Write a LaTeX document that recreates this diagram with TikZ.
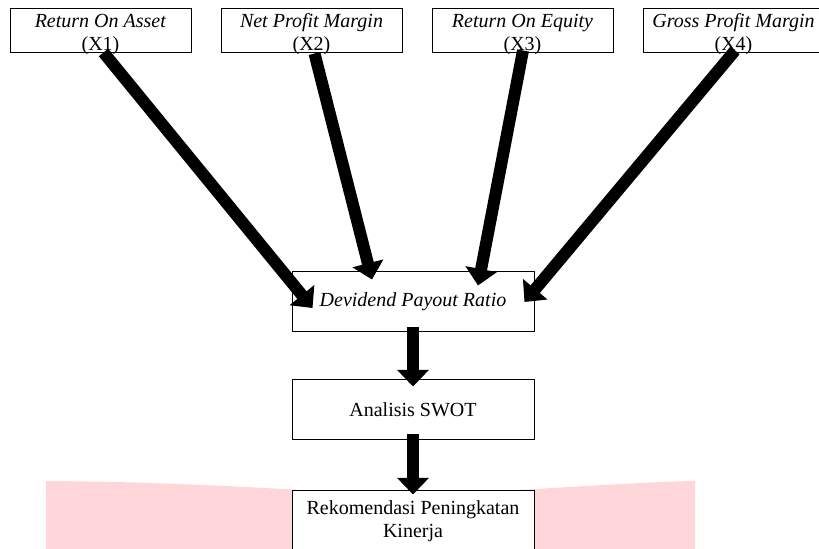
\documentclass[tikz,border=0pt]{standalone}
\usepackage{fontspec}
\setmainfont{Liberation Serif}
\usetikzlibrary{arrows.meta}
\definecolor{watermark_pink}{HTML}{FFD7DA}

\begin{document}
\begin{tikzpicture}[x=0.6pt, y=-0.6pt]
    \tikzstyle{factor_style}=[rectangle, draw, line width=0.6pt, fill=white, align=center, inner sep=0pt, minimum width=108.6pt, text height=25pt, text depth=1.4pt, font=\fontsize{12}{13.8}\selectfont]
    \tikzstyle{stage_style}=[rectangle, draw, line width=0.6pt, fill=white, align=center, inner sep=0pt, minimum width=145.2pt, minimum height=36pt, font=\fontsize{12}{14}\selectfont]
    \tikzstyle{big_arrow}=[line width=7.2pt, -{Triangle[width=18.6pt, length=10pt]}]

    \clip (0, 0) rectangle (819, 549);

    % watermark
    \fill[watermark_pink] (46, 481) .. controls (180, 482) and (260, 488) .. (413, 496)
      .. controls (560, 488) and (640, 482) .. (695, 481) -- (695, 549) -- (46, 549) -- cycle;

    % factors X1..X4
    \foreach \x/\name in {1/Return On Asset, 2/Net Profit Margin, 3/Return On Equity, 4/Gross Profit Margin}
      \draw node at (100.5 + \x*211 - 211, 31) [factor_style] (factor_\x) {\textit{\name}\\(X\x)};

    % dividend payout ratio
    \draw node at (413, 302) [stage_style] (dpr) {\textit{Devidend Payout Ratio}};

    % swot
    \draw node at (413, 410) [stage_style] (swot) {Analisis SWOT};

    % recommendation
    \draw node at (413, 521) [stage_style, minimum height=37.2pt] (rek) {Rekomendasi Peningkatan\\Kinerja};

    % connect: factor -> dpr
    \path[big_arrow] ([shift={(3,-1)}]factor_1.south) edge node[] {} ([shift={(21,6)}]dpr.west);
    \path[big_arrow] ([shift={(3,0)}]factor_2.south) edge node[] {} ([shift={(-41,8)}]dpr.north);
    \path[big_arrow] ([shift={(0.5,-3)}]factor_3.south) edge node[] {} ([shift={(65,14)}]dpr.north);
    \path[big_arrow] ([shift={(1.5,-3)}]factor_4.south) edge node[] {} ([shift={(-10,0)}]dpr.east);

    % connect: dpr -> swot -> rek
    \path[big_arrow] ([shift={(0,-5)}]dpr.south) edge node[] {} ([shift={(0,7)}]swot.north);
    \path[big_arrow] ([shift={(0,-6)}]swot.south) edge node[] {} ([shift={(0,5)}]rek.north);

\end{tikzpicture}
\end{document}
